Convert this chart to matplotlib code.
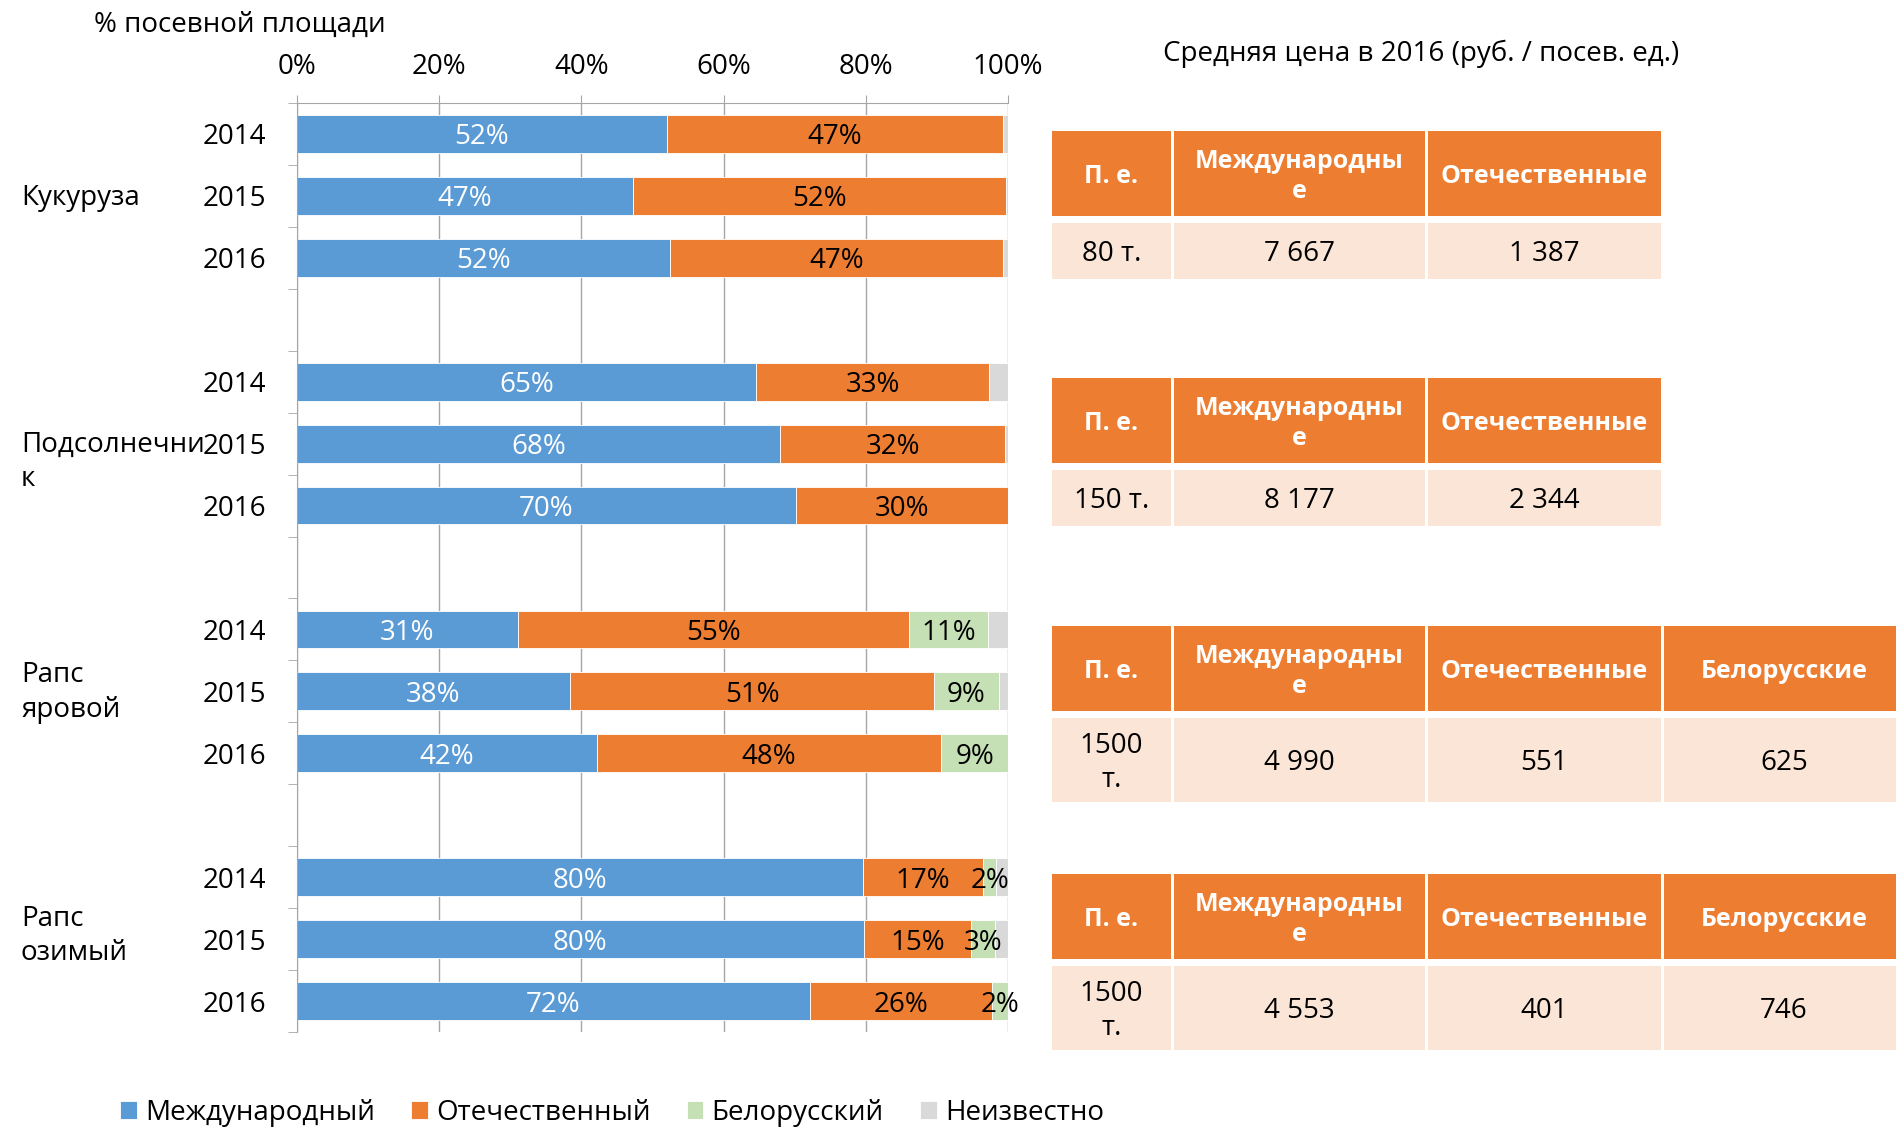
import numpy as np
import matplotlib.pyplot as plt
from matplotlib.patches import Rectangle
from matplotlib import transforms

plt.rcParams['font.family'] = ['Open Sans', 'DejaVu Sans']

# данные: доля посевной площади, %
crops = ['Кукуруза', 'Подсолнечни\nк', 'Рапс\nяровой', 'Рапс\nозимый']
years = ['2014', '2015', '2016']
series = ['Международный', 'Отечественный', 'Белорусский', 'Неизвестно']
colors = ['#5B9BD5', '#ED7D31', '#C5E0B4', '#D9D9D9']

intl = [52.0, 47.3, 52.4, 64.6, 68.0, 70.2, 31.1, 38.4, 42.2, 79.6, 79.7, 72.1]
dom = [47.3, 52.4, 46.9, 32.7, 31.6, 29.8, 55.0, 51.2, 48.4, 16.9, 15.1, 25.6]
bel = [0, 0, 0, 0, 0, 0, 11.1, 9.1, 9.4, 1.8, 3.4, 2.3]
unk = [0.7, 0.3, 0.7, 2.7, 0.4, 0, 2.8, 1.3, 0, 1.7, 1.8, 0]

# таблицы цен
price_title = 'Средняя цена в 2016 (руб. / посев. ед.)'
head_cols = ['П. е.', 'Международны\nе', 'Отечественные', 'Белорусские']
price_rows = [
    ['80 т.', '7 667', '1 387'],
    ['150 т.', '8 177', '2 344'],
    ['1500\nт.', '4 990', '551', '625'],
    ['1500\nт.', '4 553', '401', '746'],
]

W, H = 1896, 1127
FS = 20
grid_c = '#A6A6A6'

fig = plt.figure(figsize=(W / 100, H / 100), dpi=100)
ax = fig.add_axes([297 / W, 1 - 1032 / H, 711 / W, 929 / H])

pos = np.array([g * 4 + i for g in range(len(crops)) for i in range(len(years))])
left = np.zeros(len(pos))
for k, (vals, c, name) in enumerate(zip([intl, dom, bel, unk], colors, series)):
    vals = np.array(vals, dtype=float)
    ax.barh(pos, vals, left=left, height=0.61, color=c, label=name,
            edgecolor='white', linewidth=0.6)
    if k < 3:
        for p, l, v in zip(pos, left, vals):
            if v > 0:
                ax.text(l + v / 2, p, f'{round(v)}%', ha='center', va='center_baseline',
                        fontsize=FS, color='white' if k == 0 else 'black')
    left += vals

ax.set_xlim(0, 100)
ax.set_ylim(14.5, -0.5)
ax.xaxis.tick_top()
ax.set_xticks(range(0, 101, 20))
ax.set_xticklabels([f'{v}%' for v in range(0, 101, 20)], fontsize=FS)
ax.tick_params(axis='x', color=grid_c, length=6, pad=10)
ax.grid(axis='x', color=grid_c, lw=1)
ax.set_axisbelow(True)

ax.set_yticks(pos)
ax.set_yticklabels(years * len(crops), fontsize=FS)
ax.set_yticks(np.arange(-0.5, 15, 1), minor=True)
ax.tick_params(axis='y', which='major', length=0, pad=22)
ax.tick_params(axis='y', which='minor', length=6.5, color=grid_c)

for s in ['right', 'bottom']:
    ax.spines[s].set_visible(False)
for s in ['top', 'left']:
    ax.spines[s].set_color(grid_c)

# подписи культур
tr = transforms.blended_transform_factory(fig.transFigure, ax.transData)
label_dy = [0.03, 0.3, 0.02, -0.05]
for g, name in enumerate(crops):
    ax.text(21 / W, g * 4 + 1 + label_dy[g], name, transform=tr, ha='left',
            va='center', fontsize=FS, linespacing=1.3)

fig.text(94 / W, 1 - 25 / H, '% посевной площади', ha='left', va='center', fontsize=FS)
fig.text(1421 / W, 1 - 54 / H, price_title, ha='center', va='center', fontsize=FS)

# таблицы
tax = fig.add_axes([0, 0, 1, 1])
tax.set_xlim(0, W)
tax.set_ylim(H, 0)
tax.axis('off')
col_x = [1052, 1174, 1428, 1664]
col_w = [119, 251, 233, 240]
tbl_top = [131, 378, 626, 874]
head_h, gap = 85, 7
for t, row in enumerate(price_rows):
    top = tbl_top[t]
    row_h = 84 if '\n' in row[0] else 56
    for j, val in enumerate(row):
        x, w = col_x[j], col_w[j]
        tax.add_patch(Rectangle((x, top), w, head_h, color='#ED7D31', lw=0))
        tax.text(x + w / 2, top + head_h / 2 + 3, head_cols[j], color='white', weight='bold',
                 ha='center', va='center', fontsize=18, linespacing=1.3)
        y2 = top + head_h + gap
        tax.add_patch(Rectangle((x, y2), w, row_h, color='#FBE5D6', lw=0))
        tax.text(x + w / 2, y2 + row_h / 2 + 3, val, color='black', ha='center',
                 va='center', fontsize=FS, linespacing=1.3)

handles, labels = ax.get_legend_handles_labels()
fig.legend(handles, labels, loc='center', bbox_to_anchor=(612 / W, 1 - 1113 / H),
           ncol=4, frameon=False, fontsize=FS, handlelength=0.6, handleheight=0.6,
           handletextpad=0.3, columnspacing=1.3)

fig.savefig('out.png', dpi=100)
